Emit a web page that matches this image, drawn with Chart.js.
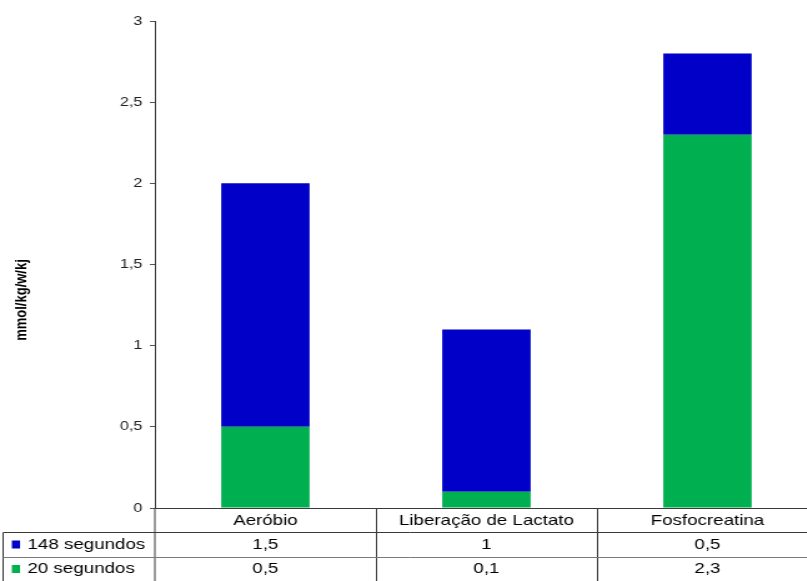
<!DOCTYPE html>
<html lang="pt-BR">
<head>
<meta charset="utf-8">
<title>mmol/kg/w/kj</title>
<script src="https://cdn.jsdelivr.net/npm/chart.js@4/dist/chart.umd.min.js"></script>
<style>
    html, body { margin: 0; padding: 0; background: #fff; overflow: hidden; }
</style>
</head>
<body>
<!-- o canvas é desenhado mais estreito e esticado na horizontal -->
<canvas id="grafico" width="655" height="581" style="display:block;width:818px;height:581px"></canvas>
<script>
'use strict';

// =================== Dados ===================

const categorias = ['Aeróbio', 'Liberação de Lactato', 'Fosfocreatina'];
const nomesSeries = ['148 segundos', '20 segundos'];
const valores148 = [1.5, 1, 0.5];
const valores20 = [0.5, 0.1, 2.3];
const ticksY = [0, 0.5, 1, 1.5, 2, 2.5, 3];
const tituloY = 'mmol/kg/w/kj';

const AZUL = '#0000C8';
const VERDE = '#00B050';
const FONTE = '"Liberation Sans", Arial, sans-serif';

// =================== Helpers ===================

function virgula(v) {
    return String(v).replace('.', ',');
}

// Tabela de dados embaixo do eixo X + título do eixo Y
const tabelaPlugin = {
    id: 'tabelaDados',
    afterDraw: function (chart) {
        const ctx = chart.ctx;
        const x = chart.scales.x;
        const area = chart.chartArea;
        const largCat = (area.right - area.left) / categorias.length;

        const linhas = [
            { nome: nomesSeries[0], cor: AZUL, dados: valores148, y: 544.5 },
            { nome: nomesSeries[1], cor: VERDE, dados: valores20, y: 569 }
        ];

        ctx.save();

        // grade
        ctx.strokeStyle = '#3a3a3a';
        ctx.lineWidth = 1;
        ctx.beginPath();
        ctx.moveTo(2.5, 532.5);
        ctx.lineTo(chart.width, 532.5);
        ctx.moveTo(2.5, 532.5);
        ctx.lineTo(2.5, 581);
        ctx.moveTo(area.left, area.bottom);
        ctx.lineTo(area.left, 581);
        for (let i = 1; i < categorias.length; i++) {
            const px = Math.round(area.left + largCat * i) + 0.5;
            ctx.moveTo(px, area.bottom);
            ctx.lineTo(px, 581);
        }
        ctx.stroke();

        ctx.strokeStyle = '#7a7a7a';
        ctx.beginPath();
        ctx.moveTo(2.5, 557.5);
        ctx.lineTo(chart.width, 557.5);
        ctx.stroke();

        // cabeçalho com as categorias
        ctx.fillStyle = '#000';
        ctx.font = '15px ' + FONTE;
        ctx.textAlign = 'center';
        ctx.textBaseline = 'middle';
        categorias.forEach(function (c, i) {
            ctx.fillText(c, x.getPixelForValue(i), 520.5);
        });

        // linhas das séries
        linhas.forEach(function (l) {
            ctx.fillStyle = l.cor;
            ctx.fillRect(9.5, l.y - 4, 6.5, 8);

            ctx.fillStyle = '#000';
            ctx.textAlign = 'left';
            ctx.fillText(l.nome, 22, l.y);

            ctx.textAlign = 'center';
            l.dados.forEach(function (v, i) {
                ctx.fillText(virgula(v), x.getPixelForValue(i), l.y);
            });
        });

        // título do eixo Y
        ctx.translate(17.5, 300);
        ctx.rotate(-Math.PI / 2);
        ctx.font = 'bold 13px ' + FONTE;
        ctx.fillText(tituloY, 0, 0);

        ctx.restore();
    }
};

// =================== Gráfico ===================

new Chart(document.getElementById('grafico'), {
    type: 'bar',
    data: {
        labels: categorias,
        datasets: [
            {
                label: nomesSeries[1],
                data: valores20,
                backgroundColor: VERDE,
                borderWidth: 0
            },
            {
                label: nomesSeries[0],
                data: valores148,
                backgroundColor: AZUL,
                borderWidth: 0
            }
        ]
    },
    options: {
        responsive: false,
        animation: false,
        devicePixelRatio: 1,
        layout: {
            padding: { top: 21, right: 0, bottom: 65, left: 0 }
        },
        datasets: {
            bar: { categoryPercentage: 1, barPercentage: 0.4 }
        },
        plugins: {
            legend: { display: false },
            tooltip: { enabled: false }
        },
        scales: {
            x: {
                stacked: true,
                ticks: { display: false },
                grid: { display: false },
                border: { display: true, color: '#3a3a3a', width: 1 }
            },
            y: {
                stacked: true,
                min: 0,
                max: 3,
                afterBuildTicks: function (scale) {
                    scale.ticks = ticksY.map(function (v) { return { value: v }; });
                },
                afterFit: function (scale) {
                    scale.width = 124;
                },
                ticks: {
                    padding: 6,
                    color: '#222',
                    font: { family: FONTE, size: 13 },
                    callback: function (v) { return virgula(v); }
                },
                grid: {
                    drawOnChartArea: false,
                    drawTicks: true,
                    tickLength: 4,
                    color: '#555'
                },
                border: { display: true, color: '#3a3a3a', width: 1 }
            }
        }
    },
    plugins: [tabelaPlugin]
});
</script>
</body>
</html>
